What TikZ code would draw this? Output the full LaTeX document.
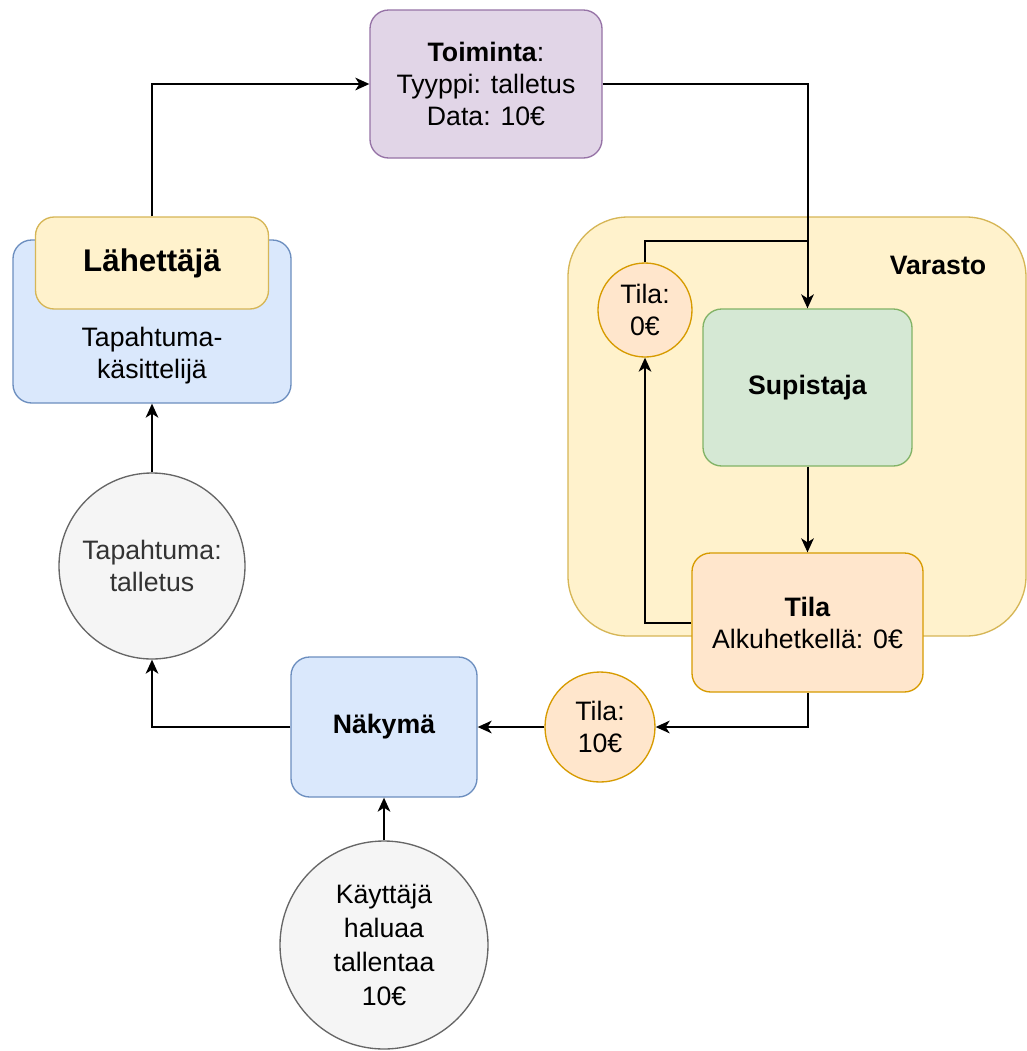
\documentclass[tikz,border=0pt]{standalone}
\usepackage{fontspec}
\setmainfont{Liberation Sans}
\usetikzlibrary{arrows.meta}

\definecolor{purpleFill}{HTML}{E1D5E7}
\definecolor{purpleLine}{HTML}{9673A6}
\definecolor{yellowFill}{HTML}{FFF2CC}
\definecolor{yellowLine}{HTML}{D6B656}
\definecolor{blueFill}{HTML}{DAE8FC}
\definecolor{blueLine}{HTML}{6C8EBF}
\definecolor{greenFill}{HTML}{D5E8D4}
\definecolor{greenLine}{HTML}{82B366}
\definecolor{orangeFill}{HTML}{FFE6CC}
\definecolor{orangeLine}{HTML}{D79B00}
\definecolor{greyFill}{HTML}{F5F5F5}
\definecolor{greyLine}{HTML}{666666}
\definecolor{greyText}{HTML}{333333}

\begin{document}
\begin{tikzpicture}[x=0.75pt,y=-0.75pt,
  txt/.style={font=\fontsize{20}{24}\selectfont, align=center},
  box/.style={txt, draw, rounded corners=14pt, line width=1pt, inner sep=0pt},
  blob/.style={txt, circle, draw, line width=1pt, inner sep=0pt},
  purplebox/.style={box, fill=purpleFill, draw=purpleLine},
  yellowbox/.style={box, fill=yellowFill, draw=yellowLine},
  bluebox/.style={box, fill=blueFill, draw=blueLine},
  greenbox/.style={box, fill=greenFill, draw=greenLine},
  orangebox/.style={box, fill=orangeFill, draw=orangeLine},
  greyblob/.style={blob, fill=greyFill, draw=greyLine},
  orangeblob/.style={blob, fill=orangeFill, draw=orangeLine},
  flow/.style={line width=1.5pt, -{Stealth[length=10.5pt,width=9.5pt,inset=3pt]}},
  plain/.style={line width=1.5pt}
]
\useasboundingbox (0,0) rectangle (1027,1051);
\fill[white] (0,0) rectangle (1027,1051);

% store container
\node[yellowbox, rounded corners=45pt, minimum width=458*0.75pt, minimum height=419*0.75pt] (store) at (797,426.5) {};
\node[txt, font=\fontsize{20}{24}\selectfont\bfseries] (storelabel) at (938,265) {Varasto};

% action
\node[purplebox, minimum width=232*0.75pt, minimum height=148*0.75pt] (toim) at (486,84)
  {\textbf{Toiminta}:\\Tyyppi: talletus\\Data: 10€};

% event handler with dispatcher on top
\node[bluebox, minimum width=278*0.75pt, minimum height=163*0.75pt] (handler) at (152,321.5) {};
\node[txt] (handlertxt) at (152,356) {Tapahtuma-\\käsittelijä};
\node[yellowbox, minimum width=233*0.75pt, minimum height=92*0.75pt,
      font=\fontsize{23.5}{28}\selectfont\bfseries] (lah) at (152,263) {Lähettäjä};

% event
\node[greyblob, minimum size=186*0.75pt, text=greyText] (ev) at (152,566) {Tapahtuma:\\talletus};

% view and user
\node[bluebox, minimum width=186*0.75pt, minimum height=140*0.75pt] (view) at (384,727) {\textbf{Näkymä}};
\node[greyblob, minimum size=208*0.75pt, font=\fontsize{20}{25.5}\selectfont] (user) at (384,945)
  {Käyttäjä\\haluaa\\tallentaa\\10€};

% states
\node[orangeblob, minimum size=110*0.75pt] (tila10) at (600,727) {Tila:\\10€};
\node[orangeblob, minimum size=94*0.75pt] (tila0) at (645,310) {Tila:\\0€};

% reducer and state
\node[greenbox, minimum width=209*0.75pt, minimum height=157*0.75pt] (red) at (807.5,387.5) {\textbf{Supistaja}};
\node[orangebox, minimum width=231*0.75pt, minimum height=139*0.75pt] (state) at (807.5,622.5)
  {\textbf{Tila}\\Alkuhetkellä: 0€};

\coordinate (join) at (807.5,241);

% connectors
\draw[flow] (lah.north) |- (toim.west);
\draw[flow] (toim.east) -| (red.north);
\draw[plain] (tila0.north) |- (join);
\draw[flow] (red.south) -- (state.north);
\draw[flow] (state.west) -| (tila0.south);
\draw[flow] (state.south) |- (tila10.east);
\draw[flow] (tila10.west) -- (view.east);
\draw[flow] (view.west) -| (ev.south);
\draw[flow] (ev.north) -- (handler.south);
\draw[flow] (user.north) -- (view.south);
\end{tikzpicture}
\end{document}
